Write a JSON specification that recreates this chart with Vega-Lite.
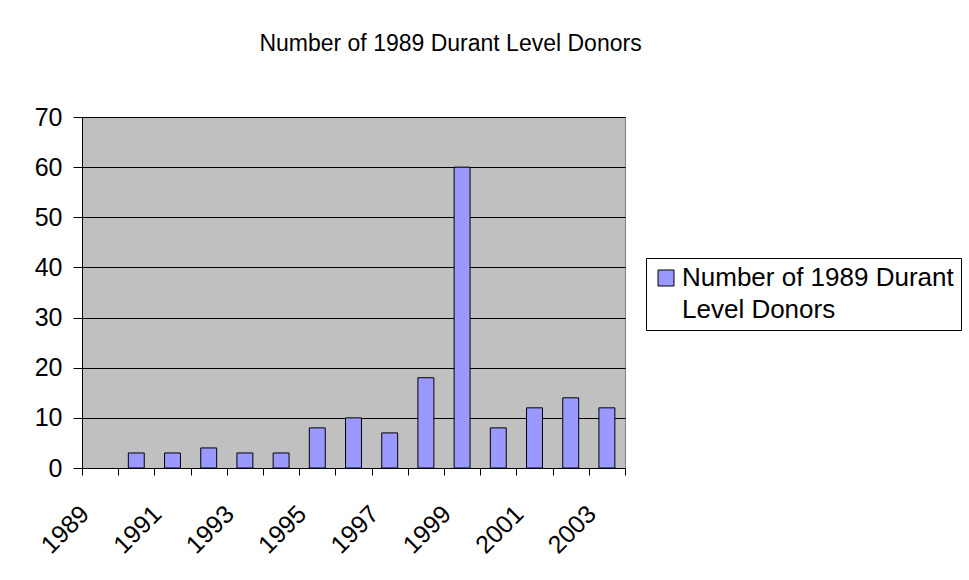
{
  "$schema": "https://vega.github.io/schema/vega-lite/v6.json",
  "autosize": "none",
  "width": 543,
  "height": 351,
  "padding": {"left": 82, "top": 117, "right": 344, "bottom": 112},
  "background": "white",
  "title": {
    "text": "Number of 1989 Durant Level Donors",
    "font": "Liberation Sans",
    "fontSize": 23,
    "fontWeight": "normal",
    "color": "black",
    "anchor": "middle",
    "frame": "group",
    "dx": 97,
    "offset": 49
  },
  "data": {
    "values": [
      {"year": 1990, "donors": 3},
      {"year": 1991, "donors": 3},
      {"year": 1992, "donors": 4},
      {"year": 1993, "donors": 3},
      {"year": 1994, "donors": 3},
      {"year": 1995, "donors": 8},
      {"year": 1996, "donors": 10},
      {"year": 1997, "donors": 7},
      {"year": 1998, "donors": 18},
      {"year": 1999, "donors": 60},
      {"year": 2000, "donors": 8},
      {"year": 2001, "donors": 12},
      {"year": 2002, "donors": 14},
      {"year": 2003, "donors": 12}
    ]
  },
  "mark": {"type": "bar", "stroke": "black", "strokeWidth": 1, "width": {"band": 0.44}},
  "encoding": {
    "x": {
      "field": "year",
      "type": "ordinal",
      "scale": {
        "domain": [1989, 1990, 1991, 1992, 1993, 1994, 1995, 1996, 1997, 1998, 1999, 2000, 2001, 2002, 2003],
        "paddingInner": 0,
        "paddingOuter": 0
      },
      "axis": {
        "title": null,
        "labelAngle": -45,
        "labelAlign": "right",
        "labelBaseline": "line-bottom",
        "labelLineHeight": 42,
        "labelExpr": "datum.value % 2 == 1 ? datum.label : ''",
        "labelFont": "Liberation Sans",
        "labelFontSize": 25,
        "labelColor": "black",
        "labelPadding": 50,
        "labelOverlap": false,
        "tickBand": "extent",
        "tickSize": 7,
        "tickColor": "black",
        "domainColor": "black",
        "grid": false
      }
    },
    "y": {
      "field": "donors",
      "type": "quantitative",
      "scale": {"domain": [0, 70]},
      "axis": {
        "title": null,
        "values": [0, 10, 20, 30, 40, 50, 60, 70],
        "grid": true,
        "gridColor": "black",
        "gridOpacity": 1,
        "gridWidth": 1,
        "tickSize": 9,
        "tickColor": "black",
        "domainColor": "black",
        "labelFont": "Liberation Sans",
        "labelFontSize": 25,
        "labelColor": "black",
        "labelPadding": 11
      }
    },
    "color": {
      "datum": "Number of 1989 Durant Level Donors",
      "type": "nominal",
      "scale": {"range": ["#9999FF"]},
      "legend": {
        "orient": "none",
        "legendX": 564,
        "legendY": 141,
        "title": null,
        "strokeColor": "black",
        "fillColor": "white",
        "padding": 7,
        "symbolType": "square",
        "symbolSize": 256,
        "symbolStrokeColor": "black",
        "symbolStrokeWidth": 1,
        "symbolOpacity": 1,
        "labelFont": "Liberation Sans",
        "labelFontSize": 26,
        "labelColor": "black",
        "labelLimit": 400,
        "labelOffset": 3,
        "labelExpr": "['Number of 1989 Durant', 'Level Donors']"
      }
    }
  },
  "config": {
    "view": {"fill": "#C0C0C0", "stroke": "#808080", "strokeWidth": 1},
    "style": {"guide-label": {"lineHeight": 32}}
  }
}
